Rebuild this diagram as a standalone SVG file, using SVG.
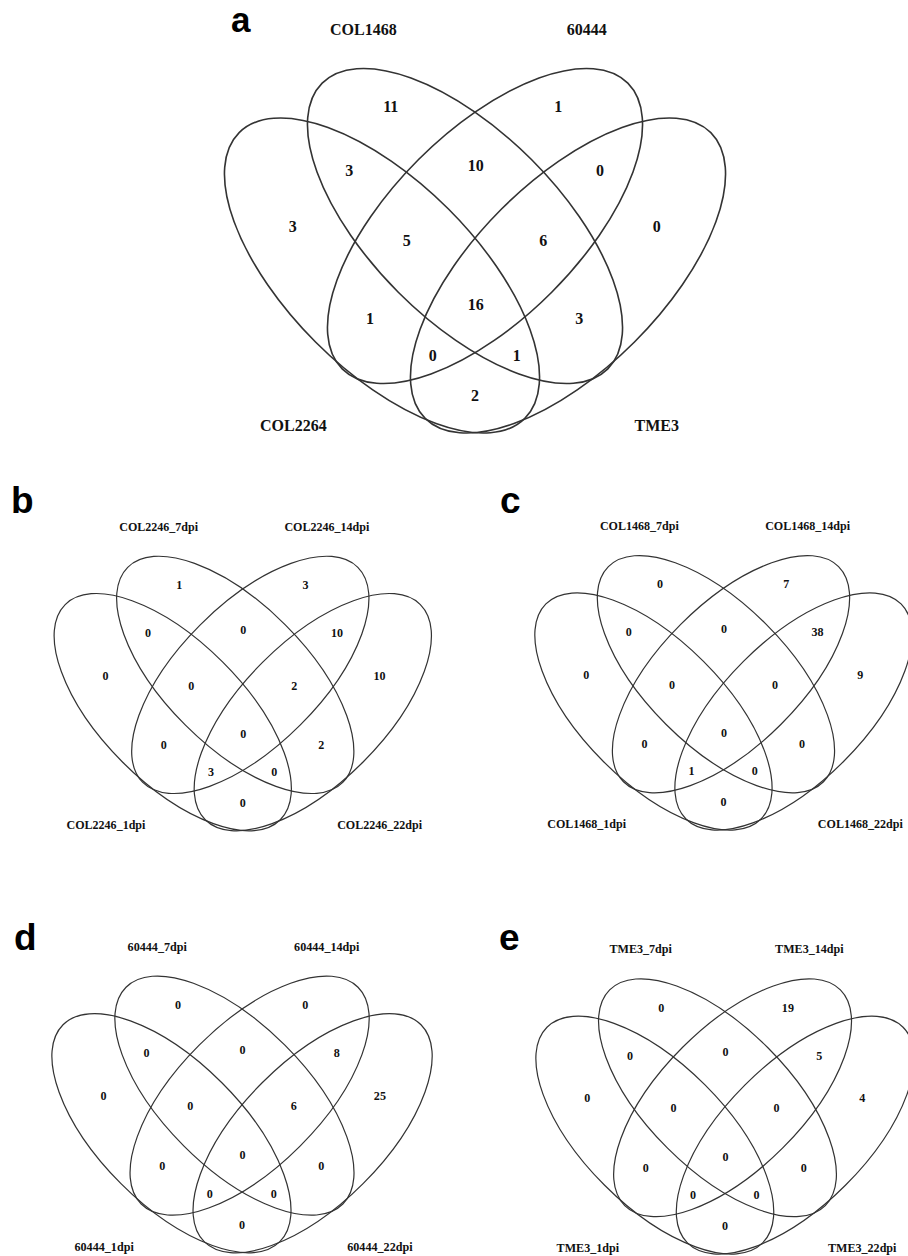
<svg xmlns="http://www.w3.org/2000/svg" xmlns:xlink="http://www.w3.org/1999/xlink" width="908" height="1256" viewBox="0 0 908 1256">
<style>
.e{fill:none;stroke:#333;stroke-width:1.6}
.t{font-family:"Liberation Serif","Times New Roman",serif;font-weight:bold;font-size:16px;fill:#111;text-anchor:middle}
.L{font-family:"Liberation Sans",Arial,sans-serif;font-weight:bold;font-size:37px;fill:#000}
</style>
<defs>
<g id="venn">
<ellipse class="e" cx="0" cy="0" rx="202" ry="94" transform="translate(382 275.5) rotate(45)"/>
<ellipse class="e" cx="0" cy="0" rx="202" ry="94" transform="translate(465 226) rotate(45)"/>
<ellipse class="e" cx="0" cy="0" rx="202" ry="94" transform="translate(485 226) rotate(-45)"/>
<ellipse class="e" cx="0" cy="0" rx="202" ry="94" transform="translate(568 275.5) rotate(-45)"/>
</g>
</defs>
<rect width="908" height="1256" fill="#fff"/>

<g id="panel-a">
<use xlink:href="#venn" href="#venn"/>
<g class="t">
<text x="363.3" y="34.8">COL1468</text><text x="586.7" y="34.8">60444</text>
<text x="293.3" y="430.5">COL2264</text><text x="656.7" y="430.5">TME3</text>
<text x="390.7" y="112.2">11</text><text x="558.3" y="112.2">1</text>
<text x="349.3" y="175.5">3</text><text x="475.7" y="171.2">10</text><text x="600" y="175.5">0</text>
<text x="292.7" y="232.2">3</text><text x="406.7" y="245.5">5</text><text x="543.3" y="245.5">6</text><text x="656.7" y="232.2">0</text>
<text x="370" y="323.8">1</text><text x="475.7" y="309.5">16</text><text x="579.3" y="323.8">3</text>
<text x="432.7" y="360.5">0</text><text x="516.7" y="360.5">1</text>
<text x="475" y="401.2">2</text>
</g>
</g>

<g id="panel-b" transform="translate(-114.9 504.7) scale(0.753)">
<use xlink:href="#venn" href="#venn"/>
<g class="t">
<text x="363.3" y="34.8">COL2246_7dpi</text><text x="586.7" y="34.8">COL2246_14dpi</text>
<text x="293.3" y="430.5">COL2246_1dpi</text><text x="656.7" y="430.5">COL2246_22dpi</text>
<text x="390.7" y="112.2">1</text><text x="558.3" y="112.2">3</text>
<text x="349.3" y="175.5">0</text><text x="475.7" y="171.2">0</text><text x="600" y="175.5">10</text>
<text x="292.7" y="232.2">0</text><text x="406.7" y="245.5">0</text><text x="543.3" y="245.5">2</text><text x="656.7" y="232.2">10</text>
<text x="370" y="323.8">0</text><text x="475.7" y="309.5">0</text><text x="579.3" y="323.8">2</text>
<text x="432.7" y="360.5">3</text><text x="516.7" y="360.5">0</text>
<text x="475" y="401.2">0</text>
</g>
</g>

<g id="panel-c" transform="translate(365.8 504) scale(0.753)">
<use xlink:href="#venn" href="#venn"/>
<g class="t">
<text x="363.3" y="34.8">COL1468_7dpi</text><text x="586.7" y="34.8">COL1468_14dpi</text>
<text x="293.3" y="430.5">COL1468_1dpi</text><text x="656.7" y="430.5">COL1468_22dpi</text>
<text x="390.7" y="112.2">0</text><text x="558.3" y="112.2">7</text>
<text x="349.3" y="175.5">0</text><text x="475.7" y="171.2">0</text><text x="600" y="175.5">38</text>
<text x="292.7" y="232.2">0</text><text x="406.7" y="245.5">0</text><text x="543.3" y="245.5">0</text><text x="656.7" y="232.2">9</text>
<text x="370" y="323.8">0</text><text x="475.7" y="309.5">0</text><text x="579.3" y="323.8">0</text>
<text x="432.7" y="360.5">1</text><text x="516.7" y="360.5">0</text>
<text x="475" y="401.2">0</text>
</g>
</g>

<g id="panel-d" transform="translate(-118.5 924.1) scale(0.759)">
<use xlink:href="#venn" href="#venn"/>
<g class="t">
<text x="363.3" y="34.8">60444_7dpi</text><text x="586.7" y="34.8">60444_14dpi</text>
<text x="293.3" y="430.5">60444_1dpi</text><text x="656.7" y="430.5">60444_22dpi</text>
<text x="390.7" y="112.2">0</text><text x="558.3" y="112.2">0</text>
<text x="349.3" y="175.5">0</text><text x="475.7" y="171.2">0</text><text x="600" y="175.5">8</text>
<text x="292.7" y="232.2">0</text><text x="406.7" y="245.5">0</text><text x="543.3" y="245.5">6</text><text x="656.7" y="232.2">25</text>
<text x="370" y="323.8">0</text><text x="475.7" y="309.5">0</text><text x="579.3" y="323.8">0</text>
<text x="432.7" y="360.5">0</text><text x="516.7" y="360.5">0</text>
<text x="475" y="401.2">0</text>
</g>
</g>

<g id="panel-e" transform="translate(366.4 927.1) scale(0.755)">
<use xlink:href="#venn" href="#venn"/>
<g class="t">
<text x="363.3" y="34.8">TME3_7dpi</text><text x="586.7" y="34.8">TME3_14dpi</text>
<text x="293.3" y="430.5">TME3_1dpi</text><text x="656.7" y="430.5">TME3_22dpi</text>
<text x="390.7" y="112.2">0</text><text x="558.3" y="112.2">19</text>
<text x="349.3" y="175.5">0</text><text x="475.7" y="171.2">0</text><text x="600" y="175.5">5</text>
<text x="292.7" y="232.2">0</text><text x="406.7" y="245.5">0</text><text x="543.3" y="245.5">0</text><text x="656.7" y="232.2">4</text>
<text x="370" y="323.8">0</text><text x="475.7" y="309.5">0</text><text x="579.3" y="323.8">0</text>
<text x="432.7" y="360.5">0</text><text x="516.7" y="360.5">0</text>
<text x="475" y="401.2">0</text>
</g>
</g>

<g id="panel-letters" class="L">
<text x="231" y="32" style="font-size:35px">a</text>
<text x="11" y="512.7">b</text>
<text x="500" y="512.7">c</text>
<text x="14" y="950">d</text>
<text x="499" y="950">e</text>
</g>
</svg>
